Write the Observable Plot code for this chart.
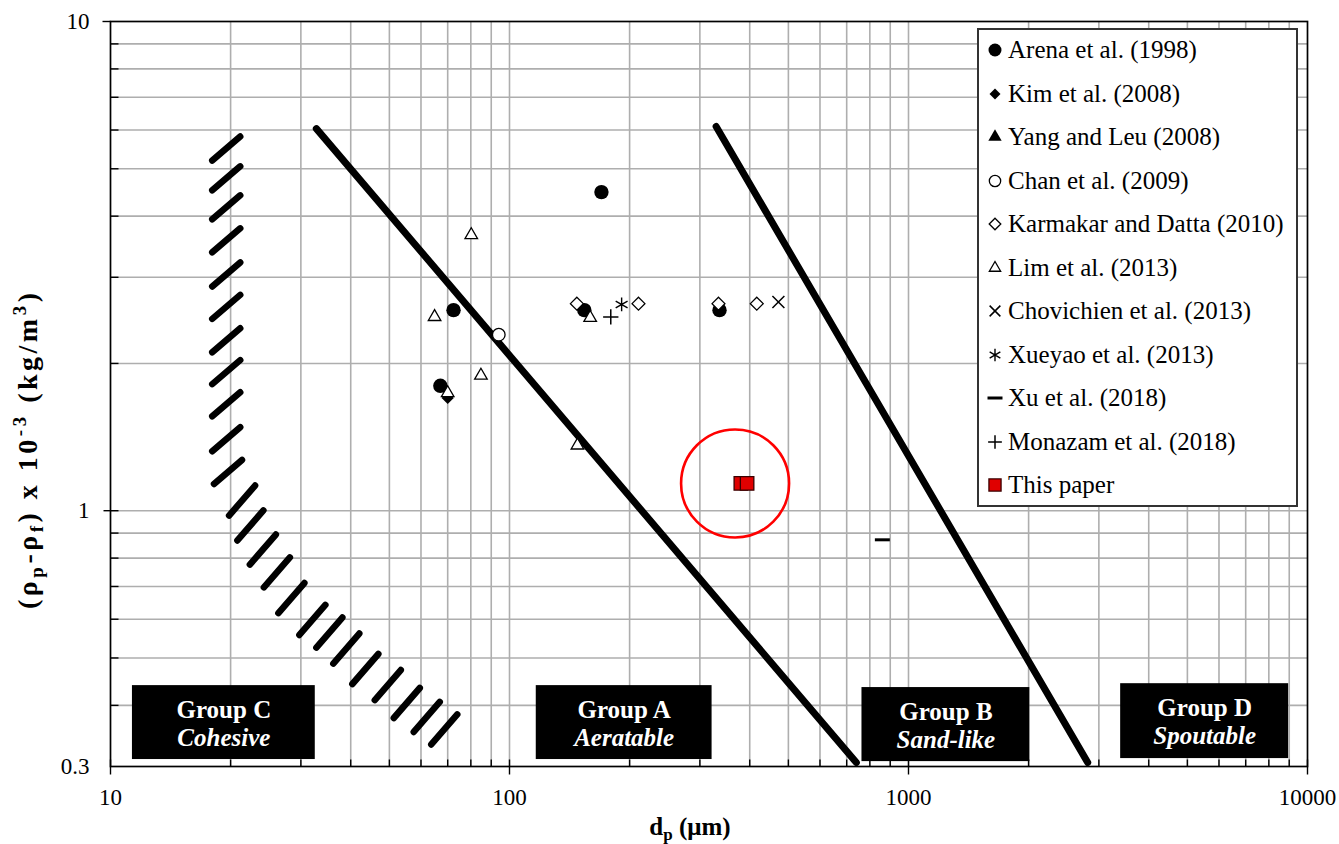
<!DOCTYPE html>
<html><head><meta charset="utf-8">
<script src="https://cdn.jsdelivr.net/npm/d3@7"></script>
<script src="https://cdn.jsdelivr.net/npm/@observablehq/plot@0.6"></script>
<style>
body{margin:0;background:#fff;}
#wrap{position:relative;width:1339px;height:844px;overflow:hidden;font-family:"Liberation Serif","Times New Roman",serif;background:#fff;}
#legend{position:absolute;left:977px;top:28px;width:317px;height:475px;border:2px solid #333;background:#fff;}
.row{position:absolute;left:0;height:30px;display:flex;align-items:center;font-size:25px;color:#000;white-space:nowrap;}
.row svg{flex:none;}
</style></head><body><div id="wrap"><div id="legend"></div></div>
<script>
// ---- Data ----
const seriesNames = ["Arena et al. (1998)","Kim et al. (2008)","Yang and Leu (2008)","Chan et al. (2009)",
  "Karmakar and Datta (2010)","Lim et al. (2013)","Chovichien et al. (2013)","Xueyao et al. (2013)",
  "Xu et al. (2018)","Monazam et al. (2018)","This paper"];
const arenaD = [170, 72.4, 67.1, 154, 336];
const arenaRho = [4.48, 2.57, 1.80, 2.57, 2.57];
const kimD = [70]; const kimRho = [1.70];
const yangD = []; const yangRho = [];
const chanD = [94]; const chanRho = [2.29];
const karmakarD = [147.5, 210.5, 334, 416.6];
const karmakarRho = [2.65, 2.65, 2.65, 2.65];
const limD = [80.2, 64.9, 159.3, 84.8, 70, 148];
const limRho = [3.66, 2.49, 2.48, 1.89, 1.74, 1.36];
const chovichienD = [472]; const chovichienRho = [2.67];
const xueyaoD = [191]; const xueyaoRho = [2.64];
const xuD = [860]; const xuRho = [0.872];
const monazamD = [179.4]; const monazamRho = [2.49];
const thisPaperD = [380, 394]; const thisPaperRho = [1.137, 1.137];
const highlightD = [367.6]; const highlightRho = [1.137];

// Geldart boundaries
const boundaryAB_D = [32.8, 740]; const boundaryAB_Rho = [6.04, 0.3056];
const boundaryBD_D = [329.5, 2813]; const boundaryBD_Rho = [6.10, 0.3056];
// Group C / A hatched boundary (vertical part, then diagonal part)
const hatchColD = [19.5,19.5,19.5,19.5,19.5,19.5,19.5,19.5,19.5,19.5,19.7];
const hatchColRho = [5.50,4.78,4.17,3.57,3.04,2.61,2.23,1.92,1.65,1.40,1.20];
const hatchDiagD = [21.37,22.42,24.09,26.12,28.40,32.06,35.36,38.99,43.52,49.54,55.28,62.03,68.63];
const hatchDiagRho = [1.049,0.933,0.833,0.748,0.663,0.598,0.5636,0.5227,0.4747,0.4402,0.4045,0.3788,0.3571];

// Group labels
const groupNames = ["Group C","Group A","Group B","Group D"];
const groupDescs = ["Cohesive","Aeratable","Sand-like","Spoutable"];
const groupX1 = [11.35, 116.7, 764.5, 3402];
const groupX2 = [32.6, 321.9, 2014, 8969];
const groupY1 = [0.310, 0.310, 0.307, 0.3114];
const groupY2 = [0.439, 0.439, 0.435, 0.443];

// Axis ticks
const xMajor = [10, 100, 1000, 10000];
const xMinor = [20,30,40,50,60,70,80,90,200,300,400,500,600,700,800,900,2000,3000,4000,5000,6000,7000,8000,9000];
const yLabels = [10, 1, 0.3];
const yMinor = [0.4,0.5,0.6,0.7,0.8,0.9,2,3,4,5,6,7,8,9];
const xTitle = "d"; const xTitleSub = "p"; const xTitleUnit = " (μm)";

// ---- Styles ----
const seg = (x1,y1,x2,y2) => ({draw(c){c.moveTo(x1,y1); c.lineTo(x2,y2);}});
const dashSym = seg(-7.5,0,7.5,0);
const FONT = "Liberation Serif";
const seriesData = [
  [arenaD, arenaRho, {symbol:"circle", fill:"#000", r:7.2}],
  [kimD, kimRho, {symbol:"diamond2", fill:"#000", r:5.5}],
  [yangD, yangRho, {symbol:"triangle", fill:"#000", r:5.5}],
  [chanD, chanRho, {symbol:"circle", fill:"#fff", stroke:"#000", strokeWidth:1.3, r:6.3}],
  [karmakarD, karmakarRho, {symbol:"diamond2", fill:"#fff", stroke:"#000", strokeWidth:1.3, r:5.8}],
  [limD, limRho, {symbol:"triangle2", fill:"#fff", stroke:"#000", strokeWidth:1.3, r:6}],
  [chovichienD, chovichienRho, {symbol:"times", fill:"none", stroke:"#000", strokeWidth:1.5, r:5.5}],
  [xueyaoD, xueyaoRho, {symbol:"asterisk", fill:"none", stroke:"#000", strokeWidth:1.4, r:6.5}],
  [xuD, xuRho, {symbol:dashSym, fill:"none", stroke:"#000", strokeWidth:3}],
  [monazamD, monazamRho, {symbol:"plus", fill:"none", stroke:"#000", strokeWidth:1.5, r:5}],
  [thisPaperD, thisPaperRho, {symbol:"square", fill:"#e00000", stroke:"#3a0000", strokeWidth:1.3, r:7.6}]
];
const idx = a => a.map((_, i) => i);

const gIdx = idx(groupNames);
const gx = i => Math.sqrt(groupX1[i]*groupX2[i]);
const gy = i => Math.sqrt(groupY1[i]*groupY2[i]);

const marks = [
  Plot.ruleX(xMinor.concat([100,1000]), {stroke:"#aeaeae", strokeWidth:1.6}),
  Plot.ruleY(yMinor.concat([1]), {stroke:"#aeaeae", strokeWidth:1.6}),
  Plot.frame({stroke:"#000", strokeWidth:1.7}),
  // ticks
  Plot.dot(xMinor, {x:d=>d, y:()=>0.3, symbol:seg(0,-7,0,0), fill:"none", stroke:"#000", strokeWidth:1.4}),
  Plot.dot(xMajor, {x:d=>d, y:()=>0.3, symbol:seg(0,-7,0,8), fill:"none", stroke:"#000", strokeWidth:1.4}),
  Plot.dot(yMinor, {x:()=>10, y:d=>d, symbol:seg(0,0,8,0), fill:"none", stroke:"#000", strokeWidth:1.4}),
  Plot.dot([1], {x:()=>10, y:d=>d, symbol:seg(-7,0,8,0), fill:"none", stroke:"#000", strokeWidth:1.4}),
  Plot.dot([10], {x:()=>10, y:d=>d, symbol:seg(-8,0,0,0), fill:"none", stroke:"#000", strokeWidth:1.4}),
  // tick labels
  Plot.text(xMajor, {x:d=>d, y:()=>0.3, text:d=>String(d), dy:31, fontSize:23, fontFamily:FONT, fill:"#000"}),
  Plot.text(yLabels, {x:()=>10, y:d=>d, text:d=>String(d), dx:-21, textAnchor:"end", fontSize:23, fontFamily:FONT, fill:"#000"}),
  // Group C hatched boundary
  Plot.dot(idx(hatchColD), {x:i=>hatchColD[i], y:i=>hatchColRho[i], symbol:seg(-14,12,14,-12), fill:"none", stroke:"#000", strokeWidth:6.5, strokeLinecap:"round"}),
  Plot.dot(idx(hatchDiagD), {x:i=>hatchDiagD[i], y:i=>hatchDiagRho[i], symbol:seg(-13,15,13,-15), fill:"none", stroke:"#000", strokeWidth:6.5, strokeLinecap:"round"}),
  // boundaries
  Plot.line(idx(boundaryAB_D), {x:i=>boundaryAB_D[i], y:i=>boundaryAB_Rho[i], stroke:"#000", strokeWidth:7}),
  Plot.line(idx(boundaryBD_D), {x:i=>boundaryBD_D[i], y:i=>boundaryBD_Rho[i], stroke:"#000", strokeWidth:7}),
  // group boxes
  Plot.rect(gIdx, {x1:i=>groupX1[i], x2:i=>groupX2[i], y1:i=>groupY1[i], y2:i=>groupY2[i], fill:"#000"}),
  Plot.text(gIdx, {x:gx, y:gy, text:i=>groupNames[i], dy:-13, fill:"#fff", fontSize:25, fontWeight:"bold", fontFamily:FONT}),
  Plot.text(gIdx, {x:gx, y:gy, text:i=>groupDescs[i], dy:15, fill:"#fff", fontSize:25, fontWeight:"bold", fontStyle:"italic", fontFamily:FONT}),
];
for (const [D, R, st] of seriesData) {
  marks.push(Plot.dot(idx(D), {x:i=>D[i], y:i=>R[i], ...st}));
}
marks.push(Plot.dot(idx(highlightD), {x:i=>highlightD[i], y:i=>highlightRho[i], r:54, fill:"none", stroke:"#ff0000", strokeWidth:2.6}));

const chart = Plot.plot({
  width:1339, height:844,
  marginLeft:110, marginRight:32, marginTop:21, marginBottom:78,
  x:{type:"log", domain:[10,10000], axis:null},
  y:{type:"log", domain:[0.3,10], axis:null},
  style:{fontFamily:FONT, background:"#fff", overflow:"visible"},
  marks
});
const wrap = document.getElementById("wrap");
wrap.insertBefore(chart, wrap.firstChild);

// axis titles with sub/superscripts
const svg = d3.select(chart);
const xt = svg.append("text").attr("x",690).attr("y",835).attr("text-anchor","middle")
  .attr("font-family",FONT).attr("font-weight","bold").attr("font-size",25).attr("fill","#000");
xt.append("tspan").text(xTitle);
xt.append("tspan").attr("dy",5).attr("font-size",17).text(xTitleSub);
xt.append("tspan").attr("dy",-5).text(xTitleUnit);

const yt = svg.append("text").attr("transform","translate(37,451) rotate(-90)").attr("text-anchor","middle")
  .attr("font-family",FONT).attr("font-weight","bold").attr("font-size",28).attr("fill","#000")
  .attr("textLength",316).attr("lengthAdjust","spacing");
const parts = [["(ρ",0,null],["p",6,19],["-ρ",-6,null],["f",6,19],[") x 10",-6,null],["-3",-11,19],[" (kg/m",11,null],["3",-11,19],[")",11,null]];
for (const [t, dy, fs] of parts) {
  const ts = yt.append("tspan").attr("dy", dy).text(t);
  if (fs) ts.attr("font-size", fs);
}

// legend
const legend = d3.select("#legend");
seriesData.forEach(([D, R, st], i) => {
  const row = legend.append("div").attr("class","row").style("top", (50 + i*43.5 - 30 - 15) + "px");
  const s = row.append("svg").attr("width",29).attr("height",30);
  let sym = st.symbol;
  if (typeof sym === "string") {
    const map = {circle:d3.symbolCircle, diamond2:d3.symbolDiamond2, triangle:d3.symbolTriangle, triangle2:d3.symbolTriangle2,
      times:d3.symbolTimes || d3.symbolX, asterisk:d3.symbolAsterisk, plus:d3.symbolPlus, square:d3.symbolSquare};
    sym = map[sym];
  }
  const r = (st.r || 5) * 0.9;
  s.append("path").attr("transform","translate(16,15)")
    .attr("d", d3.symbol(sym, Math.PI*r*r)())
    .attr("fill", st.fill).attr("stroke", st.stroke || "none").attr("stroke-width", st.strokeWidth || 0);
  row.append("span").text(seriesNames[i]);
});
</script>
</body></html>
